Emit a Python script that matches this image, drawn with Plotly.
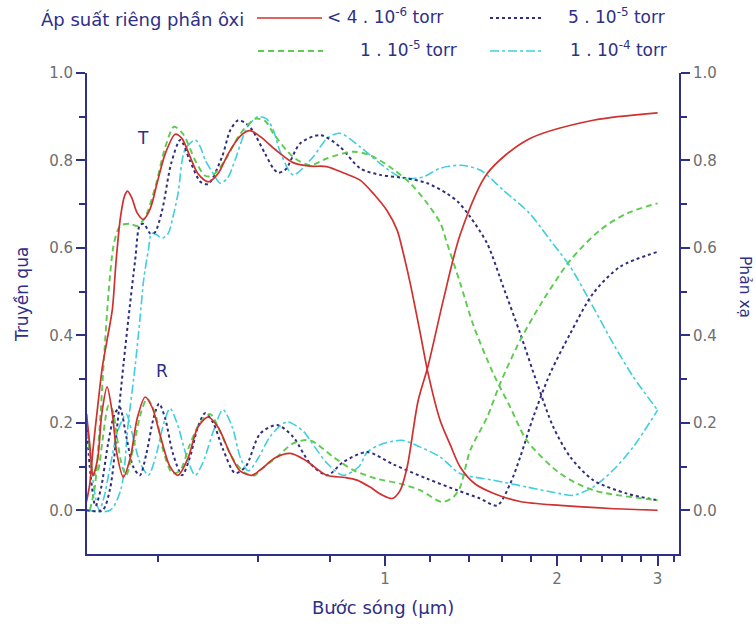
import math
import plotly.graph_objects as go

# ---------------- data (wavelength in µm, value 0..1) ----------------
red_T_x = [0.300, 0.304, 0.308, 0.314, 0.320, 0.326, 0.333, 0.338, 0.344, 0.350, 0.354, 0.360, 0.368, 0.377,
           0.388, 0.400, 0.412, 0.429, 0.441, 0.455, 0.470, 0.490, 0.510, 0.531, 0.557, 0.580, 0.604, 0.642,
           0.690, 0.739, 0.790, 0.851, 0.904, 0.960, 1.008, 1.050, 1.075, 1.106, 1.152, 1.189, 1.248, 1.300,
           1.353, 1.438, 1.546, 1.723, 2.025, 2.480, 3.000]
red_T_y = [0.02, 0.06, 0.14, 0.24, 0.33, 0.39, 0.46, 0.57, 0.67, 0.72, 0.73, 0.715, 0.68, 0.665,
           0.69, 0.755, 0.815, 0.860, 0.85, 0.81, 0.77, 0.751, 0.77, 0.815, 0.855, 0.868, 0.855, 0.825,
           0.795, 0.787, 0.786, 0.77, 0.755, 0.72, 0.685, 0.64, 0.59, 0.52, 0.405, 0.313, 0.206, 0.15,
           0.099, 0.06, 0.039, 0.02, 0.011, 0.004, 0.0]

red_R_x = [0.300, 0.304, 0.308, 0.314, 0.319, 0.326, 0.333, 0.339, 0.348, 0.358, 0.368, 0.380, 0.391, 0.404,
           0.420, 0.434, 0.452, 0.470, 0.490, 0.510, 0.535, 0.557, 0.584, 0.604, 0.642, 0.682, 0.724, 0.790,
           0.851, 0.893, 0.941, 0.988, 1.029, 1.062, 1.093, 1.142, 1.189, 1.264, 1.353, 1.509, 1.773, 2.313, 3.000]
red_R_y = [0.22, 0.15, 0.08, 0.12, 0.22, 0.282, 0.22, 0.13, 0.076, 0.12, 0.21, 0.259, 0.235, 0.17,
           0.10, 0.08, 0.12, 0.19, 0.213, 0.19, 0.13, 0.09, 0.08, 0.092, 0.12, 0.130, 0.115, 0.08,
           0.075, 0.069, 0.053, 0.035, 0.027, 0.045, 0.099, 0.25, 0.33, 0.48, 0.63, 0.77, 0.847, 0.892, 0.909]

green_T_x = [0.304, 0.310, 0.316, 0.322, 0.328, 0.334, 0.340, 0.345, 0.358, 0.368, 0.380, 0.396, 0.412, 0.427,
             0.443, 0.465, 0.484, 0.498, 0.524, 0.557, 0.592, 0.617, 0.637, 0.690, 0.739, 0.792, 0.879, 0.941,
             1.033, 1.106, 1.180, 1.250, 1.284, 1.353, 1.430, 1.550, 1.656, 1.770, 2.025, 2.313, 3.000]
green_T_y = [0.0, 0.05, 0.18, 0.35, 0.50, 0.60, 0.64, 0.652, 0.655, 0.65, 0.67, 0.74, 0.83, 0.877,
             0.86, 0.80, 0.765, 0.765, 0.80, 0.86, 0.895, 0.89, 0.862, 0.808, 0.789, 0.805, 0.82, 0.812,
             0.78, 0.748, 0.705, 0.656, 0.61, 0.52, 0.42, 0.31, 0.236, 0.16, 0.084, 0.046, 0.023]

green_R_x = [0.300, 0.304, 0.309, 0.314, 0.320, 0.328, 0.333, 0.339, 0.345, 0.352, 0.362, 0.373, 0.383, 0.396,
             0.408, 0.424, 0.437, 0.455, 0.474, 0.494, 0.514, 0.540, 0.569, 0.592, 0.604, 0.647, 0.690, 0.739,
             0.811, 0.879, 0.968, 1.062, 1.152, 1.258, 1.316, 1.353, 1.409, 1.509, 1.590, 1.724, 1.890, 2.110,
             2.380, 2.650, 3.000]
green_R_y = [0.20, 0.13, 0.08, 0.09, 0.16, 0.24, 0.23, 0.17, 0.11, 0.08, 0.14, 0.22, 0.255, 0.22,
             0.14, 0.085, 0.09, 0.15, 0.20, 0.22, 0.18, 0.12, 0.085, 0.08, 0.092, 0.122, 0.153, 0.16,
             0.122, 0.092, 0.072, 0.061, 0.046, 0.019, 0.03, 0.053, 0.137, 0.213, 0.29, 0.389, 0.48, 0.572,
             0.641, 0.679, 0.702]

navy_T_x = [0.300, 0.320, 0.330, 0.340, 0.348, 0.355, 0.365, 0.372, 0.378, 0.388, 0.395, 0.407, 0.422, 0.438,
            0.455, 0.475, 0.490, 0.518, 0.536, 0.553, 0.570, 0.585, 0.616, 0.637, 0.650, 0.670, 0.710, 0.770,
            0.834, 0.904, 0.980, 1.093, 1.185, 1.284, 1.342, 1.409, 1.509, 1.610, 1.724, 1.846, 1.969, 2.109,
            2.313, 2.653, 3.000]
navy_T_y = [0.0, 0.0, 0.05, 0.20, 0.33, 0.435, 0.572, 0.652, 0.655, 0.633, 0.635, 0.686, 0.793, 0.847,
            0.80, 0.751, 0.746, 0.808, 0.87, 0.892, 0.885, 0.87, 0.816, 0.782, 0.772, 0.78, 0.839, 0.858,
            0.831, 0.782, 0.767, 0.759, 0.748, 0.724, 0.705, 0.671, 0.61, 0.511, 0.404, 0.29, 0.191, 0.122,
            0.069, 0.038, 0.023]

navy_R_x = [0.300, 0.305, 0.311, 0.318, 0.327, 0.336, 0.343, 0.352, 0.362, 0.372, 0.382, 0.393, 0.402, 0.412,
            0.425, 0.441, 0.455, 0.470, 0.484, 0.500, 0.520, 0.546, 0.570, 0.604, 0.647, 0.690, 0.739, 0.792,
            0.844, 0.930, 1.033, 1.185, 1.342, 1.460, 1.571, 1.656, 1.724, 1.817, 1.945, 2.109, 2.313, 2.579,
            3.000]
navy_R_y = [0.20, 0.08, 0.01, 0.05, 0.15, 0.22, 0.235, 0.17, 0.10, 0.08, 0.13, 0.21, 0.244, 0.21,
            0.13, 0.08, 0.12, 0.19, 0.222, 0.20, 0.14, 0.085, 0.10, 0.175, 0.195, 0.168, 0.107, 0.08,
            0.11, 0.133, 0.105, 0.072, 0.045, 0.028, 0.011, 0.061, 0.122, 0.213, 0.313, 0.404, 0.496, 0.557,
            0.591]

cyan_T_x = [0.300, 0.330, 0.345, 0.355, 0.365, 0.372, 0.378, 0.385, 0.390, 0.398, 0.407, 0.417, 0.425, 0.434,
            0.446, 0.465, 0.475, 0.484, 0.500, 0.514, 0.530, 0.546, 0.574, 0.599, 0.620, 0.637, 0.655, 0.690,
            0.748, 0.792, 0.834, 0.904, 0.980, 1.062, 1.130, 1.170, 1.248, 1.353, 1.467, 1.610, 1.790, 1.945,
            2.109, 2.313, 2.508, 2.720, 3.000]
cyan_T_y = [0.0, 0.0, 0.05, 0.20, 0.33, 0.435, 0.53, 0.595, 0.633, 0.63, 0.622, 0.633, 0.67, 0.725,
            0.824, 0.847, 0.83, 0.801, 0.77, 0.748, 0.76, 0.801, 0.877, 0.90, 0.895, 0.87, 0.82, 0.767,
            0.808, 0.851, 0.862, 0.831, 0.793, 0.762, 0.759, 0.763, 0.782, 0.789, 0.778, 0.732, 0.679, 0.618,
            0.557, 0.465, 0.381, 0.305, 0.229]

cyan_R_x = [0.300, 0.305, 0.311, 0.316, 0.322, 0.330, 0.340, 0.352, 0.360, 0.372, 0.385, 0.396, 0.410, 0.420,
            0.432, 0.450, 0.465, 0.480, 0.500, 0.520, 0.540, 0.558, 0.576, 0.600, 0.630, 0.673, 0.720, 0.739,
            0.792, 0.844, 0.900, 0.930, 0.980, 1.070, 1.150, 1.248, 1.353, 1.546, 1.773, 2.025, 2.134, 2.313,
            2.508, 2.720, 3.000]
cyan_R_y = [0.22, 0.12, 0.03, 0.0, 0.03, 0.10, 0.18, 0.22, 0.18, 0.11, 0.08, 0.12, 0.20, 0.233,
            0.20, 0.12, 0.08, 0.11, 0.18, 0.23, 0.19, 0.12, 0.09, 0.12, 0.17, 0.202, 0.18, 0.16,
            0.107, 0.08, 0.10, 0.133, 0.15, 0.16, 0.145, 0.122, 0.084, 0.069, 0.053, 0.038, 0.034, 0.053,
            0.092, 0.145, 0.229]

legend_labels = ["< 4 . 10<sup>-6</sup> torr", "1 . 10<sup>-5</sup> torr",
                 "5 . 10<sup>-5</sup> torr", "1 . 10<sup>-4</sup> torr"]
legend_title = "Áp suất riêng phần ôxi"
x_ticks = [1, 2, 3]
x_minor = [0.4, 0.6, 0.8, 1.2, 1.4, 1.6, 1.8, 2.2, 2.4, 2.6, 2.8, 3.2]
y_ticks = [0.0, 0.2, 0.4, 0.6, 0.8, 1.0]
y_minor = [0.1, 0.3, 0.5, 0.7, 0.9]

# ---------------- styling ----------------
NAVY = "#2E2F86"
TICKC = "#6E6E6E"
FONT = "DejaVu Sans"
RED = "#D0302E"
GREEN = "#5CCB4E"
DOTC = "#2F2F7E"
CYAN = "#3FCFDE"

styles = [
    dict(color=RED, width=1.7, dash="solid"),
    dict(color=GREEN, width=1.9, dash="6px,4px"),
    dict(color=DOTC, width=2.0, dash="dot"),
    dict(color=CYAN, width=1.6, dash="dashdot"),
]

series = [
    (red_T_x, red_T_y, red_R_x, red_R_y),
    (green_T_x, green_T_y, green_R_x, green_R_y),
    (navy_T_x, navy_T_y, navy_R_x, navy_R_y),
    (cyan_T_x, cyan_T_y, cyan_R_x, cyan_R_y),
]

fig = go.Figure()
for idx in [3, 2, 1, 0]:
    tx, ty, rx, ry = series[idx]
    st = styles[idx]
    for xx, yy in ((tx, ty), (rx, ry)):
        fig.add_trace(go.Scatter(x=xx, y=yy, mode="lines", line=dict(shape="spline", smoothing=0.8, **st),
                                 showlegend=False, hoverinfo="skip"))

fig.add_trace(go.Scatter(x=[1], y=[0], yaxis="y2", mode="markers", marker=dict(opacity=0),
                         showlegend=False, hoverinfo="skip"))

L, R, T, B = 87, 77, 73, 75
W, H = 756, 629
pw, ph = W - L - R, H - T - B


def px(xp):
    return (xp - L) / pw


def py(yp):
    return (H - B - yp) / ph


axis_common = dict(showline=True, linecolor=NAVY, linewidth=2, showgrid=False, zeroline=False,
                   ticks="outside", tickcolor=NAVY, tickwidth=2,
                   tickfont=dict(family=FONT, size=15, color=TICKC))

minor_y = dict(tickmode="array", tickvals=y_minor, ticks="outside", ticklen=6, tickcolor=NAVY, tickwidth=2)
yr = [-0.1, 1.0]
fig.update_layout(
    width=W, height=H, margin=dict(l=L, r=R, t=T, b=B),
    paper_bgcolor="white", plot_bgcolor="white",
    xaxis=dict(type="log", range=[math.log10(0.3006), math.log10(3.27)],
               tickmode="array", tickvals=x_ticks, ticktext=[str(v) for v in x_ticks], ticklen=10,
               minor=dict(tickmode="array", tickvals=x_minor, ticks="outside", ticklen=6,
                          tickcolor=NAVY, tickwidth=2),
               **axis_common),
    yaxis=dict(range=yr, tickmode="array", tickvals=y_ticks, ticktext=[f"{v:.1f}" for v in y_ticks],
               ticklen=9, minor=minor_y, **axis_common),
    yaxis2=dict(range=yr, overlaying="y", side="right", tickmode="array", tickvals=y_ticks,
                ticktext=[f"{v:.1f}" for v in y_ticks], ticklen=9, minor=minor_y, **axis_common),
)

ann = []
C = dict(xref="paper", yref="paper", showarrow=False, xanchor="center", yanchor="middle")
ann.append(dict(x=px(22), y=py(295), text="Truyền qua", textangle=-90,
                font=dict(family=FONT, size=17, color=NAVY), **C))
ann.append(dict(x=px(745), y=py(287), text="Phản xạ", textangle=90,
                font=dict(family=FONT, size=15.5, color=NAVY), **C))
ann.append(dict(x=px(383), y=py(607), text="Bước sóng (µm)",
                font=dict(family=FONT, size=18, color=NAVY), **C))
ann.append(dict(x=math.log10(0.377), y=0.851, xref="x", yref="y", text="T", showarrow=False,
                xanchor="center", yanchor="middle", font=dict(family=FONT, size=17, color=NAVY)))
ann.append(dict(x=math.log10(0.407), y=0.318, xref="x", yref="y", text="R", showarrow=False,
                xanchor="center", yanchor="middle", font=dict(family=FONT, size=17, color=NAVY)))

# legend
lf = dict(family=FONT, size=17, color=NAVY)
ann.append(dict(x=px(246), y=py(19), xref="paper", yref="paper", text=legend_title, xanchor="right",
                yanchor="middle", showarrow=False, font=dict(family=FONT, size=18, color=NAVY)))
leg_pos = [  # (line x0, line x1, text x, row y)
    (257, 322, 325, 18),
    (258, 323, 358, 51),
    (490, 542, 566, 18),
    (490, 542, 568, 51),
]
shapes = []
for i, (x0, x1, tx, ry) in enumerate(leg_pos):
    st = styles[i]
    shapes.append(dict(type="line", xref="paper", yref="paper", x0=px(x0), x1=px(x1), y0=py(ry),
                       y1=py(ry), line=dict(color=st["color"], width=st["width"], dash=st["dash"])))
    ann.append(dict(x=px(tx), y=py(ry - 2), xref="paper", yref="paper", text=legend_labels[i],
                    xanchor="left", yanchor="middle", showarrow=False, font=lf))

fig.update_layout(annotations=ann, shapes=shapes)
fig.write_html("out.html")
